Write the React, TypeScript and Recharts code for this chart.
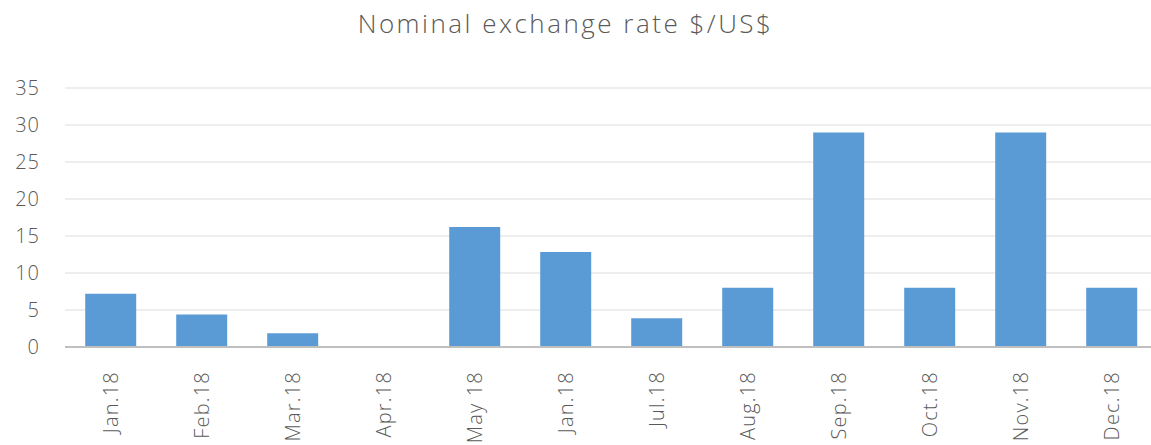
import React from "react";
import { BarChart, Bar, XAxis, YAxis, CartesianGrid } from "recharts";

const categories = ["Jan.18", "Feb.18", "Mar.18", "Apr.18", "May 18", "Jan.18", "Jul.18", "Aug.18", "Sep.18", "Oct.18", "Nov.18", "Dec.18"];
const rates = [7.2, 4.4, 1.85, 0.15, 16.2, 12.85, 3.9, 8.0, 29.0, 8.0, 29.0, 8.0];
const yTicks = [0, 5, 10, 15, 20, 25, 30, 35];
const title = "Nominal exchange rate $/US$";

const data = categories.map((c, i) => ({ key: i, label: c, value: rates[i] }));

const FONT = "'Open Sans', 'Noto Sans', sans-serif";
const TEXT = "#595959";

const XTick = (props: any) => {
  const { x, y, payload } = props;
  return (
    <g transform={`translate(${x},${y})`}>
      <text
        transform="rotate(-90)"
        x={-16}
        y={0}
        dy="0.36em"
        textAnchor="end"
        fill={TEXT}
        fontSize={20}
        fontWeight={300}
        letterSpacing={1.2}
        fontFamily={FONT}
      >
        {categories[payload.value]}
      </text>
    </g>
  );
};

export default function App() {
  return (
    <div style={{ position: "absolute", left: 0, top: 0, width: 1151, height: 445, background: "#fff", overflow: "hidden" }}>
      <div
        style={{
          position: "absolute",
          left: 0,
          top: 5,
          width: 1131,
          textAlign: "center",
          fontFamily: FONT,
          fontSize: 26,
          fontWeight: 300,
          color: TEXT,
          letterSpacing: 2.5,
          zIndex: 1,
        }}
      >
        {title}
      </div>
      <BarChart
        width={1157}
        height={445}
        data={data}
        margin={{ top: 88, right: 0, bottom: 0, left: 0 }}
        barCategoryGap="22.2%"
      >
        <CartesianGrid vertical={false} stroke="#E8E8E8" strokeWidth={1.5} />
        <XAxis
          dataKey="key"
          type="category"
          height={98}
          tick={<XTick />}
          tickLine={false}
          axisLine={{ stroke: "#BFBFBF", strokeWidth: 2 }}
          interval={0}
        />
        <YAxis
          width={65}
          domain={[0, 35]}
          ticks={yTicks}
          tickLine={false}
          axisLine={false}
          tickSize={0}
          tickMargin={25}
          tick={{ fill: TEXT, fontSize: 20, fontWeight: 300, letterSpacing: 1, fontFamily: FONT }}
        />
        <Bar dataKey="value" fill="#5B9BD5" isAnimationActive={false} />
      </BarChart>
    </div>
  );
}
